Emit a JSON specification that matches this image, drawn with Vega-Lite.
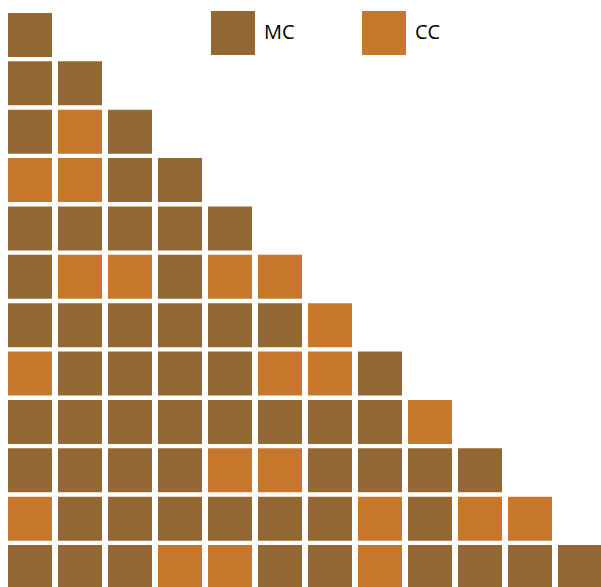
{
  "$schema": "https://vega.github.io/schema/vega-lite/v6.json",
  "width": 601,
  "height": 587,
  "padding": 0,
  "autosize": {"type": "none"},
  "config": {"view": {"stroke": null}, "font": "Open Sans"},
  "data": {"values": [
    {"row": 1, "col": 1, "type": "MC"},
    {"row": 2, "col": 1, "type": "MC"}, {"row": 2, "col": 2, "type": "MC"},
    {"row": 3, "col": 1, "type": "MC"}, {"row": 3, "col": 2, "type": "CC"}, {"row": 3, "col": 3, "type": "MC"},
    {"row": 4, "col": 1, "type": "CC"}, {"row": 4, "col": 2, "type": "CC"}, {"row": 4, "col": 3, "type": "MC"}, {"row": 4, "col": 4, "type": "MC"},
    {"row": 5, "col": 1, "type": "MC"}, {"row": 5, "col": 2, "type": "MC"}, {"row": 5, "col": 3, "type": "MC"}, {"row": 5, "col": 4, "type": "MC"}, {"row": 5, "col": 5, "type": "MC"},
    {"row": 6, "col": 1, "type": "MC"}, {"row": 6, "col": 2, "type": "CC"}, {"row": 6, "col": 3, "type": "CC"}, {"row": 6, "col": 4, "type": "MC"}, {"row": 6, "col": 5, "type": "CC"}, {"row": 6, "col": 6, "type": "CC"},
    {"row": 7, "col": 1, "type": "MC"}, {"row": 7, "col": 2, "type": "MC"}, {"row": 7, "col": 3, "type": "MC"}, {"row": 7, "col": 4, "type": "MC"}, {"row": 7, "col": 5, "type": "MC"}, {"row": 7, "col": 6, "type": "MC"}, {"row": 7, "col": 7, "type": "CC"},
    {"row": 8, "col": 1, "type": "CC"}, {"row": 8, "col": 2, "type": "MC"}, {"row": 8, "col": 3, "type": "MC"}, {"row": 8, "col": 4, "type": "MC"}, {"row": 8, "col": 5, "type": "MC"}, {"row": 8, "col": 6, "type": "CC"}, {"row": 8, "col": 7, "type": "CC"}, {"row": 8, "col": 8, "type": "MC"},
    {"row": 9, "col": 1, "type": "MC"}, {"row": 9, "col": 2, "type": "MC"}, {"row": 9, "col": 3, "type": "MC"}, {"row": 9, "col": 4, "type": "MC"}, {"row": 9, "col": 5, "type": "MC"}, {"row": 9, "col": 6, "type": "MC"}, {"row": 9, "col": 7, "type": "MC"}, {"row": 9, "col": 8, "type": "MC"}, {"row": 9, "col": 9, "type": "CC"},
    {"row": 10, "col": 1, "type": "MC"}, {"row": 10, "col": 2, "type": "MC"}, {"row": 10, "col": 3, "type": "MC"}, {"row": 10, "col": 4, "type": "MC"}, {"row": 10, "col": 5, "type": "CC"}, {"row": 10, "col": 6, "type": "CC"}, {"row": 10, "col": 7, "type": "MC"}, {"row": 10, "col": 8, "type": "MC"}, {"row": 10, "col": 9, "type": "MC"}, {"row": 10, "col": 10, "type": "MC"},
    {"row": 11, "col": 1, "type": "CC"}, {"row": 11, "col": 2, "type": "MC"}, {"row": 11, "col": 3, "type": "MC"}, {"row": 11, "col": 4, "type": "MC"}, {"row": 11, "col": 5, "type": "MC"}, {"row": 11, "col": 6, "type": "MC"}, {"row": 11, "col": 7, "type": "MC"}, {"row": 11, "col": 8, "type": "CC"}, {"row": 11, "col": 9, "type": "MC"}, {"row": 11, "col": 10, "type": "CC"}, {"row": 11, "col": 11, "type": "CC"},
    {"row": 12, "col": 1, "type": "MC"}, {"row": 12, "col": 2, "type": "MC"}, {"row": 12, "col": 3, "type": "MC"}, {"row": 12, "col": 4, "type": "CC"}, {"row": 12, "col": 5, "type": "CC"}, {"row": 12, "col": 6, "type": "MC"}, {"row": 12, "col": 7, "type": "MC"}, {"row": 12, "col": 8, "type": "CC"}, {"row": 12, "col": 9, "type": "MC"}, {"row": 12, "col": 10, "type": "MC"}, {"row": 12, "col": 11, "type": "MC"}, {"row": 12, "col": 12, "type": "MC"}
  ]},
  "mark": {"type": "rect", "strokeWidth": 0},
  "encoding": {
    "x": {"field": "col", "type": "ordinal", "axis": null,
          "scale": {"range": [8, 602], "paddingInner": 0.12, "paddingOuter": 0}},
    "y": {"field": "row", "type": "ordinal", "axis": null,
          "scale": {"range": [13, 589], "paddingInner": 0.09, "paddingOuter": 0}},
    "color": {"field": "type", "type": "nominal",
      "scale": {"domain": ["MC", "CC"], "range": ["#936835", "#C6772C"]},
      "legend": {"title": null, "orient": "none", "legendX": 211, "legendY": 11,
        "direction": "horizontal", "columns": 2, "columnPadding": 67,
        "symbolType": "square", "symbolSize": 1936, "symbolStrokeWidth": 0,
        "labelFontSize": 20, "labelColor": "#000000", "labelOffset": 9,
        "labelFont": "Open Sans", "padding": 0}}
  }
}
